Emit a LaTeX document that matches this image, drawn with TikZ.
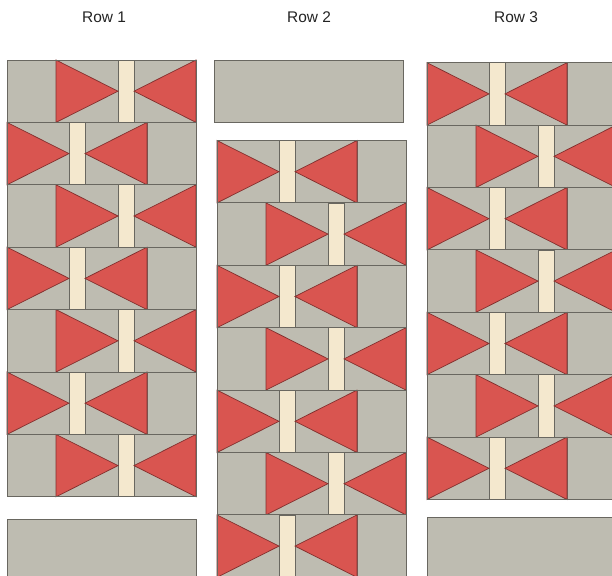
\documentclass[tikz,border=0pt]{standalone}
\usepackage{fontspec}
\setmainfont{Liberation Sans}
\definecolor{qgray}{RGB}{190,188,177}
\definecolor{qred}{RGB}{217,85,80}
\definecolor{qcream}{RGB}{244,232,206}
\definecolor{qline}{RGB}{105,103,96}
\definecolor{qredline}{RGB}{130,48,46}
\definecolor{qtext}{RGB}{35,35,35}
\tikzset{
  blockfill/.style={fill=qgray},
  edge/.style={draw=qline,line width=0.9bp},
  barstyle/.style={fill=qcream,draw=qline,line width=0.8bp},
  tri/.style={fill=qred,draw=qredline,line width=0.7bp,line join=miter},
  plain/.style={fill=qgray,draw=qline,line width=0.9bp},
  lbl/.style={font=\fontsize{15.5}{18}\selectfont,text=qtext,inner sep=0pt}
}
% #1 left, #2 top, #3 offset of first square (0 or 49)
\newcommand\qrow[3]{%
\begin{scope}[shift={(#1,#2)}]
 \path[blockfill] (0,0) rectangle (189,62.4);
 \draw[edge] (#3,0) -- (#3,62.4) (#3+140,0) -- (#3+140,62.4);
 \path[barstyle] (#3+62,0) rectangle (#3+78,62.4);
 \path[tri] (#3,0) -- (#3+62,31.2) -- (#3,62.4) -- cycle;
 \path[tri] (#3+140,0) -- (#3+78,31.2) -- (#3+140,62.4) -- cycle;
 \draw[edge] (0,0) rectangle (189,62.4);
\end{scope}}
\begin{document}
\begin{tikzpicture}[x=1bp,y=-1bp]
\useasboundingbox (0,0) rectangle (612,576);
\clip (0,0) rectangle (612,576);
% labels
\node[lbl,anchor=base] (r1) at (104,23) {Row 1};
\node[lbl,anchor=base] (r2) at (309,23) {Row 2};
\node[lbl,anchor=base] (r3) at (516,23) {Row 3};
% column 1
\foreach \k/\o in {0/49,1/0,2/49,3/0,4/49,5/0,6/49}{
  \qrow{7}{60+62.4*\k}{\o}
}
\path[plain] (7,519) rectangle (196,590);
% column 2
\path[plain] (214,60) rectangle (403,122);
\foreach \k/\o in {0/0,1/49,2/0,3/49,4/0,5/49,6/0}{
  \qrow{217}{140.5+62.4*\k}{\o}
}
% column 3
\foreach \k/\o in {0/0,1/49,2/0,3/49,4/0,5/49,6/0}{
  \qrow{427}{62.7+62.4*\k}{\o}
}
\path[plain] (427,517) rectangle (616,590);
\end{tikzpicture}
\end{document}
